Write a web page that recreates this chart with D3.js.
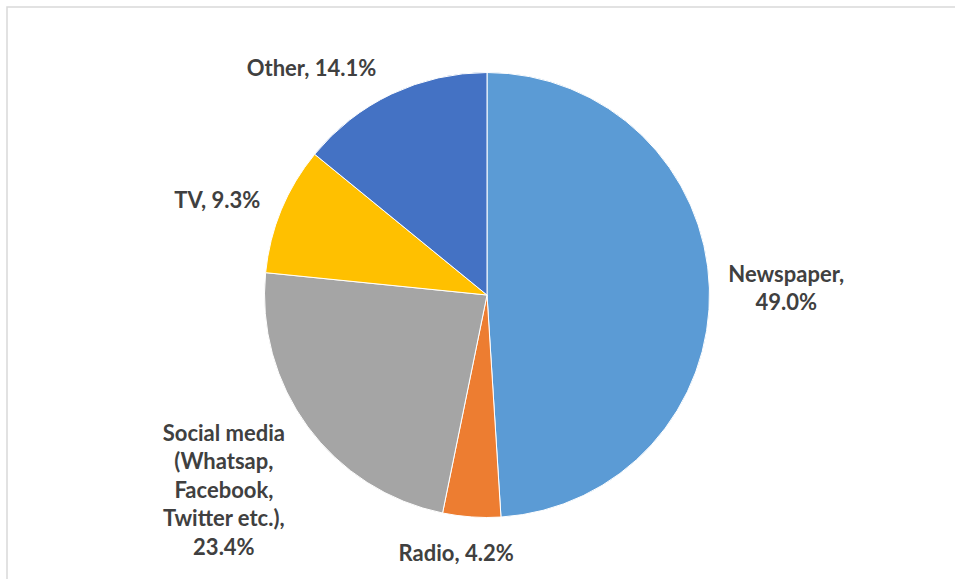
<!DOCTYPE html>
<html>
<head>
<meta charset="utf-8">
<script src="https://cdn.jsdelivr.net/npm/d3@7"></script>
<style>
  html, body { margin: 0; padding: 0; background: #fff; }
  svg { display: block; }
</style>
</head>
<body>
<svg id="chart" width="955" height="579"></svg>
<script>
// ---- data ----
const categories = ["Newspaper", "Radio", "Social media (Whatsap, Facebook, Twitter etc.)", "TV", "Other"];
const values = [49.0, 4.2, 23.4, 9.3, 14.1];
const labelLines = [
  ["Newspaper,", "49.0%"],
  ["Radio, 4.2%"],
  ["Social media", "(Whatsap,", "Facebook,", "Twitter etc.),", "23.4%"],
  ["TV, 9.3%"],
  ["Other, 14.1%"]
];
const colors = ["#5B9BD5", "#ED7D31", "#A5A5A5", "#FFC000", "#4472C4"];

// ---- layout ----
const W = 955, H = 579;
const cx = 487, cy = 295, R = 222.5;
const labelGap = 22;
const lineH = 28.5;
const nudges = [[-3, 2], [-10, 0], [-17, 8], [-4, 4], [-43, 7]];

const svg = d3.select("#chart");
svg.append("rect")
  .attr("x", 7).attr("y", 7)
  .attr("width", 1200).attr("height", 1200)
  .attr("fill", "none")
  .attr("stroke", "#d9d9d9")
  .attr("stroke-width", 1.5);

const data = categories.map((c, i) => ({ cat: c, value: values[i], lines: labelLines[i], color: colors[i] }));
const pie = d3.pie().sort(null).value(d => d.value);
const arcs = pie(data);
const arc = d3.arc().innerRadius(0).outerRadius(R);

const g = svg.append("g").attr("transform", `translate(${cx},${cy})`);
g.selectAll("path.slice")
  .data(arcs)
  .join("path")
  .attr("class", "slice")
  .attr("d", arc)
  .attr("fill", d => d.data.color)
  .attr("stroke", "#ffffff")
  .attr("stroke-width", 1);

const labels = g.selectAll("g.label")
  .data(arcs)
  .join("g")
  .attr("class", "label");

labels.each(function(d, i) {
  const sel = d3.select(this);
  const t = sel.append("text")
    .attr("text-anchor", "middle")
    .attr("font-family", "Lato, 'Open Sans', sans-serif")
    .attr("font-weight", 700)
    .attr("font-size", 22)
    .attr("fill", "#404040");
  const n = d.data.lines.length;
  d.data.lines.forEach((ln, k) => {
    t.append("tspan")
      .attr("x", 0)
      .attr("y", (k - (n - 1) / 2) * lineH)
      .attr("dy", "0.35em")
      .text(ln);
  });
  const bb = t.node().getBBox();
  const w = bb.width, h = n * lineH;
  const a = (d.startAngle + d.endAngle) / 2;
  const rr = R + labelGap;
  const px = Math.sin(a) * rr + Math.sin(a) * w / 2 + nudges[i][0];
  const py = -Math.cos(a) * rr - Math.cos(a) * h / 2 + nudges[i][1];
  sel.attr("transform", `translate(${px},${py})`);
});
</script>
</body>
</html>
